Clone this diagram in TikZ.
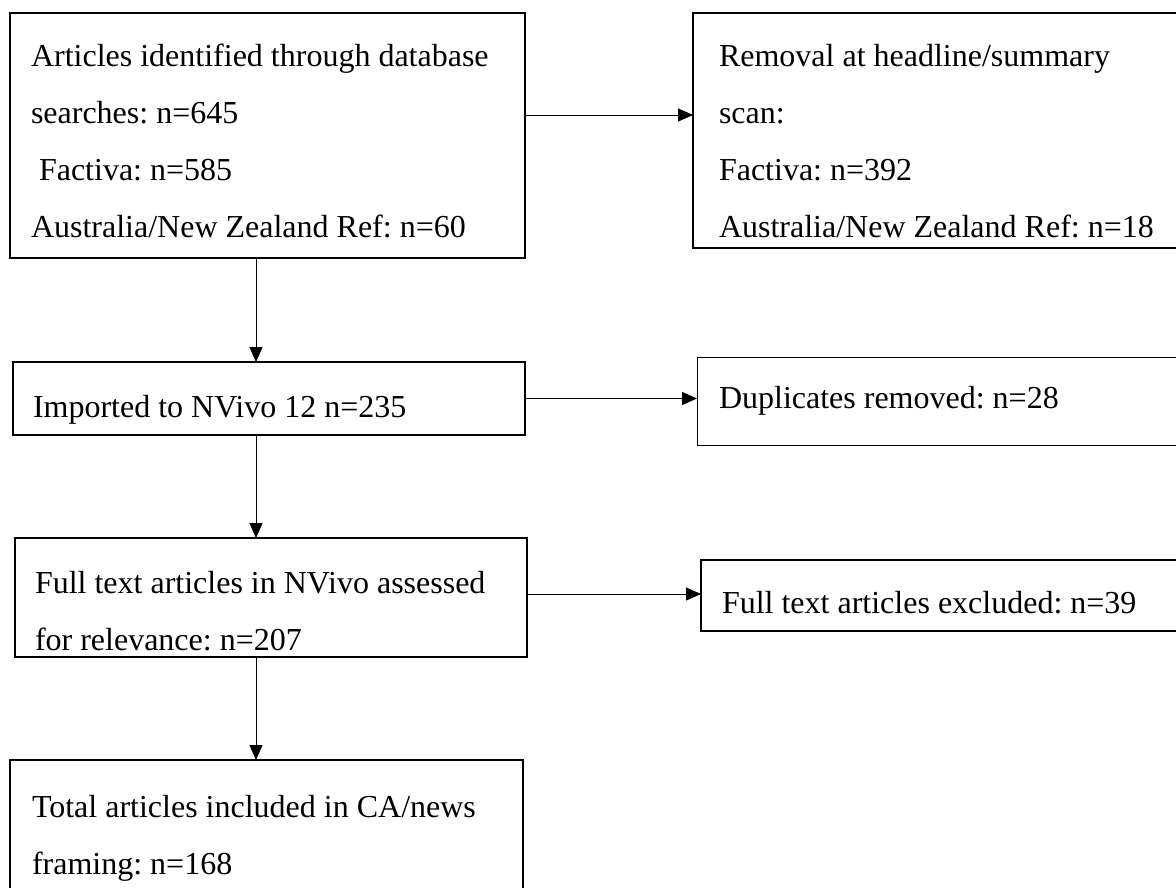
\documentclass[tikz,border=0pt]{standalone}
\usepackage{fontspec}
\setmainfont{Liberation Serif}
\usetikzlibrary{arrows.meta}
\frenchspacing
\newcommand\mylines[1]{\vtop{\baselineskip=57pt\lineskiplimit=-100pt\lineskip=0pt #1}}
\begin{document}
\frenchspacing
\begin{tikzpicture}[x=1pt,y=-1pt,
  thickbox/.style={draw=black, line width=2pt, rectangle, inner sep=0pt, outer sep=0pt, anchor=north west},
  thinbox/.style={thickbox, line width=1pt},
  txt/.style={inner sep=0pt, outer sep=0pt, anchor=base west, font=\fontsize{32}{57}\selectfont\frenchspacing},
  arr/.style={draw=black, line width=1pt, -{Triangle[length=15pt,width=13pt]}}]
\useasboundingbox (0,0) rectangle (1176,887);
\fill[white] (0,0) rectangle (1176,887);
\clip (0,0) rectangle (1176,887);

% boxes
\node[thickbox, minimum width=515pt, minimum height=245pt] (A) at (10,13) {};
\node[thickbox, minimum width=507pt, minimum height=235pt] (B) at (693,13) {};
\node[thickbox, minimum width=512pt, minimum height=73pt] (C) at (13,362) {};
\node[thinbox, minimum width=503pt, minimum height=88pt] (Dup) at (697,357) {};
\node[thickbox, minimum width=512pt, minimum height=119pt] (D) at (15,538) {};
\node[thickbox, minimum width=499pt, minimum height=71pt] (Excl) at (701,560) {};
\node[thickbox, minimum width=513pt, minimum height=150pt] (E) at (10,760) {};

% texts
\node[txt] (tA) at (31,66) {\mylines{\hbox{Articles identified through database}\hbox{searches: n=645}\hbox{\ Factiva: n=585}\hbox{Australia/New Zealand Ref: n=60}}};
\node[txt] (tB) at (719,66) {\mylines{\hbox{Removal at headline/summary}\hbox{scan:}\hbox{Factiva: n=392}\hbox{Australia/New Zealand Ref: n=18}}};
\node[txt] (tC) at (33,417) {Imported to NVivo 12 n=235};
\node[txt] (tDup) at (719,408) {Duplicates removed: n=28};
\node[txt] (tD) at (35,593) {\mylines{\hbox{Full text articles in NVivo assessed}\hbox{for relevance: n=207}}};
\node[txt] (tExcl) at (722,613) {Full text articles excluded: n=39};
\node[txt] (tE) at (32,817) {\mylines{\hbox{Total articles included in CA/news}\hbox{framing: n=168}}};

% connectors
\coordinate (spine) at (256,0);
\coordinate (r1) at (0,115);
\coordinate (r3) at (0,594);
\draw[arr] (A.south -| spine) -- (C.north -| spine);
\draw[arr] (C.south -| spine) -- (D.north -| spine);
\draw[arr] (D.south -| spine) -- (E.north -| spine);
\draw[arr] (A.east |- r1) -- (B.west |- r1);
\draw[arr] (C.east) -- (C.east -| Dup.west);
\draw[arr] (D.east |- r3) -- (Excl.west |- r3);
\end{tikzpicture}
\end{document}
